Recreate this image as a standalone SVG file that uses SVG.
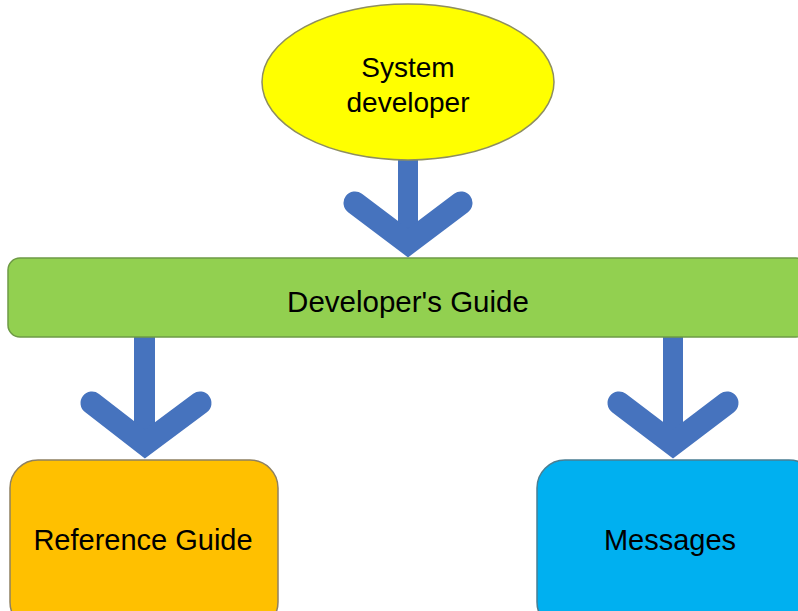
<svg xmlns="http://www.w3.org/2000/svg" width="798" height="611" viewBox="0 0 798 611">
<style>
.t{font-family:"Liberation Sans",Arial,sans-serif;fill:#000;text-anchor:middle}
.arr{fill:none;stroke:#4673BE;stroke-width:23;stroke-linecap:round;stroke-linejoin:miter;stroke-miterlimit:10}
.shaft{fill:#4673BE}
</style>
<rect width="798" height="611" fill="#fff"/>
<g id="connectors">
<rect class="shaft" x="398" y="158" width="20" height="80"/>
<polyline class="arr" points="355,203 408,243 461,203"/>
<rect class="shaft" x="134" y="336" width="21" height="100"/>
<polyline class="arr" points="92,403 145,444 200,403"/>
<rect class="shaft" x="663" y="336" width="20" height="100"/>
<polyline class="arr" points="619,403 673,444 727,403"/>
</g>
<g id="system-developer">
<ellipse cx="408" cy="82" rx="146" ry="78" fill="#FFFF00" stroke="#8E8E60" stroke-width="1.5"/>
<text class="t" x="408" y="77" font-size="28">System</text>
<text class="t" x="408" y="112" font-size="28">developer</text>
</g>
<g id="developers-guide">
<rect x="8" y="258" width="800" height="79" rx="12" fill="#92D050" stroke="#6E9A45" stroke-width="1.5"/>
<text class="t" x="408" y="312" font-size="29.5">Developer's Guide</text>
</g>
<g id="reference-guide">
<rect x="10" y="460" width="268" height="170" rx="28" fill="#FFC000" stroke="#8F8060" stroke-width="1.5"/>
<text class="t" x="143" y="550" font-size="29">Reference Guide</text>
</g>
<g id="messages">
<rect x="537" y="460" width="280" height="170" rx="28" fill="#00B0F0" stroke="#4A7E92" stroke-width="1.5"/>
<text class="t" x="670" y="550" font-size="29">Messages</text>
</g>
</svg>
